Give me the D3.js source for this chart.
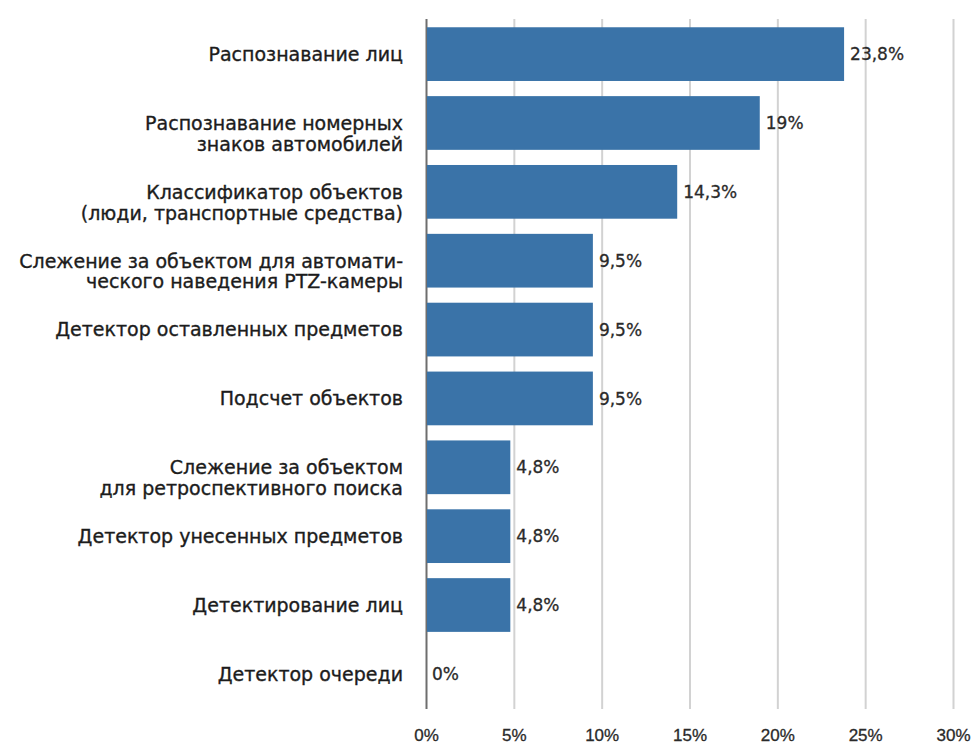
<!DOCTYPE html>
<head>
  <meta charset="utf-8">
  <script src="https://d3js.org/d3.v7.min.js"></script>
  <style>
    body { margin:0; background:#fff; }
    svg { font-family: "DejaVu Sans", sans-serif; display:block; }
    .cat { font-size: 19px; fill: #1c1c1c; stroke: #1c1c1c; stroke-width: 0.35px; }
    .val { font-size: 17px; fill: #2a2a2a; stroke: #2a2a2a; stroke-width: 0.3px; }
    .x-axis text { font-size: 17px; fill: #2a2a2a; stroke: #2a2a2a; stroke-width: 0.3px; }
  </style>
</head>
<body>
<svg width="972" height="746"></svg>

<script>
  // categories, top to bottom
  var categories = [
    "Распознавание лиц",
    "Распознавание номерных\nзнаков автомобилей",
    "Классификатор объектов\n(люди, транспортные средства)",
    "Слежение за объектом для автомати-\nческого наведения PTZ-камеры",
    "Детектор оставленных предметов",
    "Подсчет объектов",
    "Слежение за объектом\nдля ретроспективного поиска",
    "Детектор унесенных предметов",
    "Детектирование лиц",
    "Детектор очереди"
  ];
  var shares = [23.8, 19, 14.3, 9.5, 9.5, 9.5, 4.8, 4.8, 4.8, 0];
  var tickValues = [0, 5, 10, 15, 20, 25, 30];

  var svg = d3.select("svg");
  var top_ = 19, bottom = 709, left = 426, right = 953;

  var ru = d3.formatLocale({ decimal: ",", thousands: " ", grouping: [3], currency: ["", " ₽"] });
  var fmt = ru.format(".1~f");

  var x = d3.scaleLinear().domain([0, 30]).range([left, right]);
  var y = d3.scaleBand()
    .domain(d3.range(categories.length))
    .range([top_, bottom])
    .paddingInner(0.22)
    .paddingOuter(0.12);

  // grid + tick labels
  var axis = svg.append("g")
    .attr("class", "x-axis")
    .attr("transform", "translate(0," + bottom + ")")
    .call(d3.axisBottom(x)
      .tickValues(tickValues)
      .tickSizeInner(-(bottom - top_))
      .tickSizeOuter(0)
      .tickPadding(20)
      .tickFormat(function(d) { return d + "%"; }));
  axis.select(".domain").remove();
  axis.selectAll(".tick line")
    .attr("stroke", function(d) { return d === 0 ? "#6e6e6e" : "#d2d2d2"; })
    .attr("stroke-width", 2);
  axis.selectAll(".tick text").attr("font-family", null).attr("font-size", null);

  // bars
  svg.append("g").selectAll("rect")
    .data(shares)
    .enter()
    .append("rect")
    .attr("x", x(0) + 1)
    .attr("y", function(d, i) { return y(i); })
    .attr("width", function(d) { return Math.max(0, x(d) - x(0) - 1); })
    .attr("height", y.bandwidth())
    .attr("fill", "#3a73a8");

  // value labels
  svg.append("g").selectAll("text")
    .data(shares)
    .enter()
    .append("text")
    .attr("class", "val")
    .attr("x", function(d) { return x(d) + 6; })
    .attr("y", function(d, i) { return y(i) + y.bandwidth() / 2; })
    .attr("dy", "0.36em")
    .text(function(d) { return fmt(d) + "%"; });

  // category labels, first line sits on the bar centre
  var cats = svg.append("g").selectAll("text")
    .data(categories)
    .enter()
    .append("text")
    .attr("class", "cat")
    .attr("text-anchor", "end")
    .attr("y", function(d, i) { return y(i) + y.bandwidth() / 2; });

  cats.selectAll("tspan")
    .data(function(d) { return d.split("\n"); })
    .enter()
    .append("tspan")
    .attr("x", 403)
    .attr("dy", function(d, j) { return j === 0 ? "0.36em" : "1.1em"; })
    .text(function(d) { return d; });
</script>
</body>
